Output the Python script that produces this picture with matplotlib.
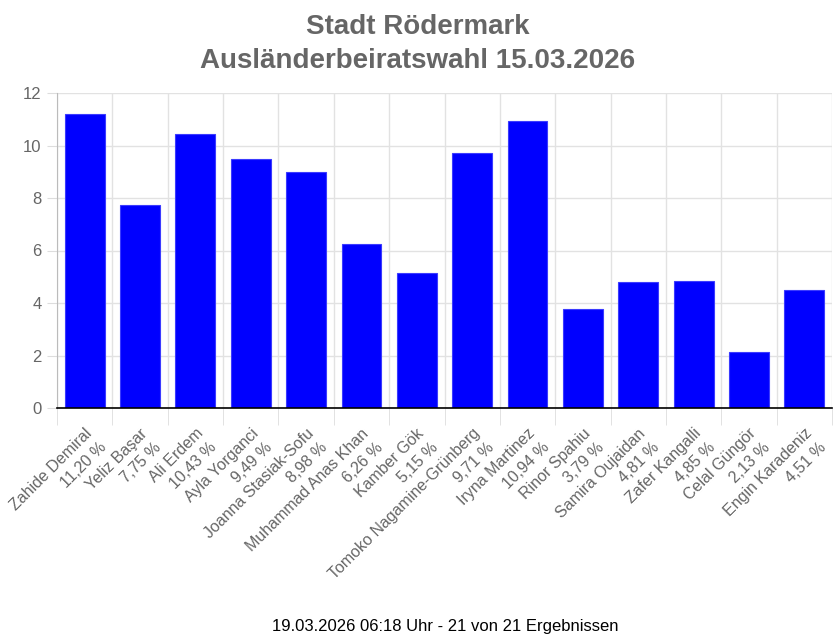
import matplotlib
matplotlib.use("Agg")
import matplotlib.pyplot as plt
from matplotlib.transforms import ScaledTranslation
import numpy as np

plt.rcParams['font.family'] = ['Liberation Sans', 'DejaVu Sans']

names = ["Zahide Demiral", "Yeliz Başar", "Ali Erdem", "Ayla Yorganci",
         "Joanna Stasiak-Sofu", "Muhammad Anas Khan", "Kamber Gök",
         "Tomoko Nagamine-Grünberg", "Iryna Martinez", "Rinor Spahiu",
         "Samira Oujaidan", "Zafer Kangalli", "Celal Güngör", "Engin Karadeniz"]
values = [11.20, 7.75, 10.43, 9.49, 8.98, 6.26, 5.15, 9.71, 10.94, 3.79,
          4.81, 4.85, 2.13, 4.51]
yticks = [0, 2, 4, 6, 8, 10, 12]

labels = [f"{n}\n{v:.2f} %".replace(".", ",") for n, v in zip(names, values)]

fig = plt.figure(figsize=(8.36, 6.43), dpi=100)
ax = fig.add_axes([57/836, 1 - 408/643, 775/836, 315/643])

x = np.arange(len(values))
ax.bar(x, values, width=0.72, color="#0000ff", edgecolor="#3b3bff", linewidth=0.8, zorder=3)

ax.set_xlim(-0.5, len(values) - 0.5)
ax.set_ylim(0, 12)
ax.set_yticks(yticks)
ax.set_yticklabels([str(t) for t in yticks], color="#666666", fontsize=12)

# gridlines on category boundaries
bounds = np.arange(len(values) + 1) - 0.5
ax.set_xticks(bounds, minor=True)
ax.set_xticks(x)
ax.set_xticklabels([])
ax.tick_params(axis="x", which="major", length=0)
ax.tick_params(axis="x", which="minor", length=12, color="#dddddd")
ax.tick_params(axis="y", length=7, color="#dddddd", pad=4)
ax.grid(True, which="minor", axis="x", color="#e2e2e2", linewidth=1, zorder=0)
ax.grid(True, which="major", axis="y", color="#e2e2e2", linewidth=1, zorder=0)

# rotated two-line category labels, block centred a bit right of / below the tick
trans = ax.get_xaxis_transform() + ScaledTranslation(0.12, -0.30, fig.dpi_scale_trans)
for xi, lab in zip(x, labels):
    ax.text(xi, 0, lab, transform=trans, rotation=45, rotation_mode="anchor",
            ha="right", va="center", multialignment="right", color="#666666",
            fontsize=11.5, linespacing=1.4, clip_on=False)

for s in ["top", "right"]:
    ax.spines[s].set_visible(False)
ax.spines["left"].set_color("#bbbbbb")
ax.spines["bottom"].set_color("#000000")
ax.spines["bottom"].set_linewidth(1.2)
ax.spines["bottom"].set_zorder(4)

fig.text(0.5, 1 - 27/643, "Stadt Rödermark", ha="center", va="center",
         fontsize=20, fontweight="bold", color="#666666")
fig.text(0.5, 1 - 61/643, "Ausländerbeiratswahl 15.03.2026", ha="center", va="center",
         fontsize=20, fontweight="bold", color="#666666")
fig.text(445/836, 1 - 627/643, "19.03.2026 06:18 Uhr - 21 von 21 Ergebnissen",
         ha="center", va="center", fontsize=12, color="#000000")

fig.savefig("out.png", dpi=100)
